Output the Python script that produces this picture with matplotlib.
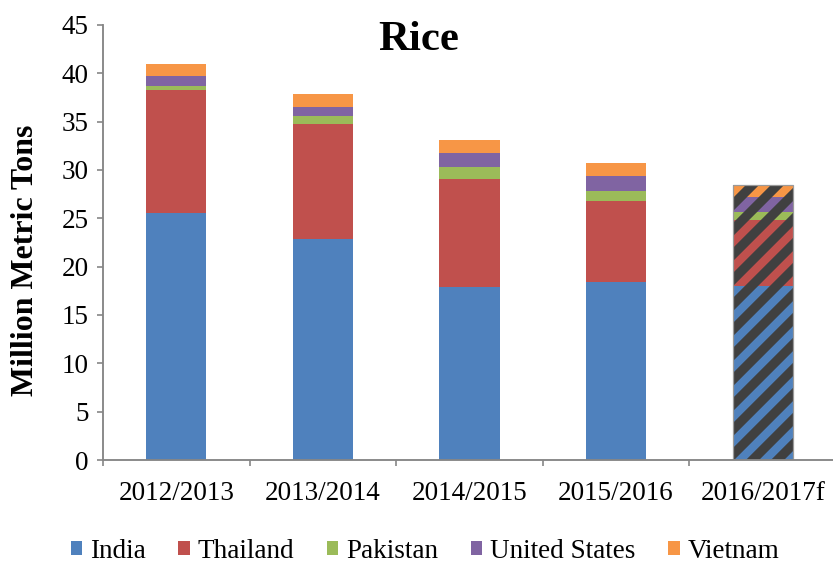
import matplotlib
matplotlib.use("Agg")
import matplotlib.pyplot as plt
from matplotlib.patches import Patch
import numpy as np

years = ["2012/2013", "2013/2014", "2014/2015", "2015/2016", "2016/2017f"]
countries = ["India", "Thailand", "Pakistan", "United States", "Vietnam"]
india = [25.6, 22.9, 17.9, 18.45, 18.0]
thailand = [12.7, 11.86, 11.2, 8.34, 6.8]
pakistan = [0.35, 0.83, 1.2, 1.07, 0.9]
united_states = [1.1, 0.96, 1.5, 1.52, 1.5]
vietnam = [1.25, 1.31, 1.35, 1.31, 1.25]
colors = ["#4F81BD", "#C0504D", "#9BBB59", "#8064A2", "#F79646"]
forecast = [False, False, False, False, True]

DPI = 150
W, H = 834, 564
plt.rcParams["font.family"] = ["Liberation Serif", "DejaVu Serif"]
plt.rcParams["hatch.linewidth"] = 4.0

fig = plt.figure(figsize=(W / DPI, H / DPI), dpi=DPI)
ax = fig.add_axes([103 / W, 1 - 460 / H, 733 / W, 435 / H])

x = np.arange(len(years))
series = [india, thailand, pakistan, united_states, vietnam]
bottom = np.zeros(len(years))
width = 0.41
for name, vals, col in zip(countries, series, colors):
    vals = np.array(vals)
    for i in range(len(years)):
        if forecast[i]:
            ax.bar(x[i], vals[i], width, bottom=bottom[i], facecolor="#404040",
                   edgecolor=col, hatch="//", linewidth=0)
        else:
            ax.bar(x[i], vals[i], width, bottom=bottom[i], color=col, linewidth=0)
    bottom += vals

# thin outline around forecast bar
for i in range(len(years)):
    if forecast[i]:
        ax.bar(x[i], bottom[i], width, fill=False, edgecolor="#9a9a9a", linewidth=0.6)

ax.set_xlim(-0.5, len(years) - 0.5)
ax.set_ylim(0, 45)
ax.set_yticks(np.arange(0, 46, 5))
ax.set_xticks(x)
ax.set_xticklabels(years)
ax.set_xticks(np.arange(-0.5, len(years), 1), minor=True)
ax.tick_params(axis="x", which="major", length=0, pad=10, labelsize=13)
ax.tick_params(axis="x", which="minor", length=3, width=0.8, color="#868686", direction="out")
ax.tick_params(axis="y", length=3, width=0.8, color="#868686", pad=4, labelsize=13)
for s in ["top", "right"]:
    ax.spines[s].set_visible(False)
for s in ["left", "bottom"]:
    ax.spines[s].set_color("#868686")
    ax.spines[s].set_linewidth(0.9)

fig.text(26 / W, 1 - 260 / H, "Million Metric Tons", rotation=90, ha="center", va="center",
         fontsize=15.3, fontweight="bold")
fig.text(419 / W, 1 - 40 / H, "Rice", ha="center", va="center", fontsize=20.5, fontweight="bold")

handles = [Patch(facecolor=c, edgecolor="none", label=n) for n, c in zip(countries, colors)]
fig.legend(handles=handles, loc="center", bbox_to_anchor=(425 / W, 1 - 551 / H), ncol=5,
           frameon=False, fontsize=13, handlelength=0.42, handleheight=0.42,
           handletextpad=0.3, columnspacing=1.2, borderaxespad=0, borderpad=0)

fig.savefig("out.png", dpi=DPI)
